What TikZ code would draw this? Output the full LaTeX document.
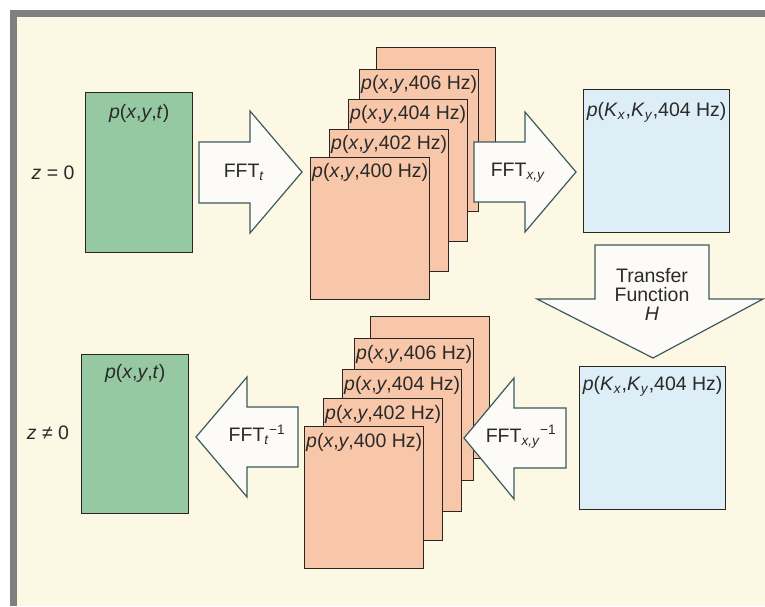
\documentclass[tikz,border=0pt]{standalone}
\usepackage{fontspec}
\setmainfont{Liberation Sans}
\definecolor{boxgreen}{HTML}{96C9A1}
\definecolor{salmon}{HTML}{F8C7AA}
\definecolor{boxblue}{HTML}{DDEEF6}
\definecolor{cream}{HTML}{FDF8E4}
\definecolor{framegray}{HTML}{7F7F7F}
\definecolor{arrline}{HTML}{3C5A5C}
\definecolor{arrfill}{HTML}{FDFBF8}
\definecolor{txt}{HTML}{2A2A2A}
\newcommand{\mn}{\char"2212\relax}
\begin{document}
\begin{tikzpicture}[x=1pt,y=-1pt,
  font=\fontsize{19.5}{21}\selectfont,
  box/.style={draw=black!85, line width=1.3pt, anchor=north west, inner sep=0pt},
  gbox/.style={box, fill=boxgreen, minimum width=107pt, minimum height=160pt},
  sbox/.style={box, fill=salmon, minimum width=119pt, minimum height=142pt},
  bbox/.style={box, fill=boxblue, minimum width=146pt, minimum height=143pt},
  lab/.style={anchor=north, inner sep=0pt, text=txt},
  atext/.style={inner sep=0pt, text=txt, align=center},
  arr/.style={draw=arrline, line width=1.2pt, fill=arrfill, line join=miter}]

\useasboundingbox (0,0) rectangle (765,606);
\fill[white] (0,0) rectangle (765,606);
\fill[framegray] (10,10) rectangle (765,606);
\fill[cream] (17,17) rectangle (765,606);

% ---------- top row ----------
\node[gbox] (g1) at (85,92) {};
\node[lab] (g1l) at ([yshift=-12pt]g1.north) {\textit{p}(\textit{x},\textit{y},\textit{t})};
\node[atext] (z0) at (53,173) {\textit{z} = 0};

\path[arr] (199,142) -- (250,142) -- (250,111) -- (302,172) -- (250,233) -- (250,203) -- (199,203) -- cycle;
\node[atext] (fftt) at (244,172) {FFT\textsubscript{\textit{t}}};

\node[sbox] (s1e) at (376,47) {};
\node[sbox] (s1d) at (359,69) {};
\node[lab] at ([yshift=-6pt]s1d.north) {\textit{p}(\textit{x},\textit{y},406 Hz)};
\node[sbox] (s1c) at (348,99) {};
\node[lab] at ([yshift=-6pt]s1c.north) {\textit{p}(\textit{x},\textit{y},404 Hz)};
\node[sbox] (s1b) at (329,129) {};
\node[lab] at ([yshift=-6pt]s1b.north) {\textit{p}(\textit{x},\textit{y},402 Hz)};
\node[sbox] (s1a) at (310,157) {};
\node[lab] at ([yshift=-6pt]s1a.north) {\textit{p}(\textit{x},\textit{y},400 Hz)};

\path[arr] (474,142) -- (525,142) -- (525,112) -- (576,172) -- (525,232) -- (525,202) -- (474,202) -- cycle;
\node[atext] (fftxy) at (518,173) {FFT\textsubscript{\textit{x,y}}};

\node[bbox] (b1) at (583,89) {};
\node[lab] at ([yshift=-13.5pt]b1.north) {\textit{p}(\textit{K}\textsubscript{\textit{x}},\textit{K}\textsubscript{\textit{y}},404 Hz)};

% ---------- transfer function ----------
\path[arr] (595,245) -- (709,245) -- (709,299) -- (763,299) -- (653,358) -- (537,299) -- (595,299) -- cycle;
\node[atext] (tf) at (652,294) {Transfer\\[-2pt]Function\\[-2pt]\textit{H}};

% ---------- bottom row ----------
\node[bbox] (b2) at (579,366) {};
\node[lab] at ([yshift=-10pt]b2.north) {\textit{p}(\textit{K}\textsubscript{\textit{x}},\textit{K}\textsubscript{\textit{y}},404 Hz)};

\node[sbox] (s2e) at (370,316) {};
\node[sbox] (s2d) at (354,338) {};
\node[lab] at ([yshift=-7pt]s2d.north) {\textit{p}(\textit{x},\textit{y},406 Hz)};
\node[sbox] (s2c) at (342,369) {};
\node[lab] at ([yshift=-7pt]s2c.north) {\textit{p}(\textit{x},\textit{y},404 Hz)};
\node[sbox] (s2b) at (323,398) {};
\node[lab] at ([yshift=-7pt]s2b.north) {\textit{p}(\textit{x},\textit{y},402 Hz)};
\node[sbox] (s2a) at (304,426) {};
\node[lab] at ([yshift=-7pt]s2a.north) {\textit{p}(\textit{x},\textit{y},400 Hz)};

\path[arr] (566,408) -- (514,408) -- (514,378) -- (464,438) -- (514,499) -- (514,468) -- (566,468) -- cycle;
\node[atext] (fftxyi) at (521,437) {FFT\textsubscript{\textit{x,y}}\textsuperscript{\mn1}};

\path[arr] (298,407) -- (247,407) -- (247,377) -- (196,437) -- (247,497) -- (247,467) -- (298,467) -- cycle;
\node[atext] (iffti) at (257,435) {FFT\textsubscript{\textit{t}}\textsuperscript{\mn1}};

\node[gbox, minimum height=159pt] (g2) at (81,354) {};
\node[lab] (g2l) at ([yshift=-10pt]g2.north) {\textit{p}(\textit{x},\textit{y},\textit{t})};
\node[atext] (zn0) at (48,433) {\textit{z} ≠ 0};
\end{tikzpicture}
\end{document}
